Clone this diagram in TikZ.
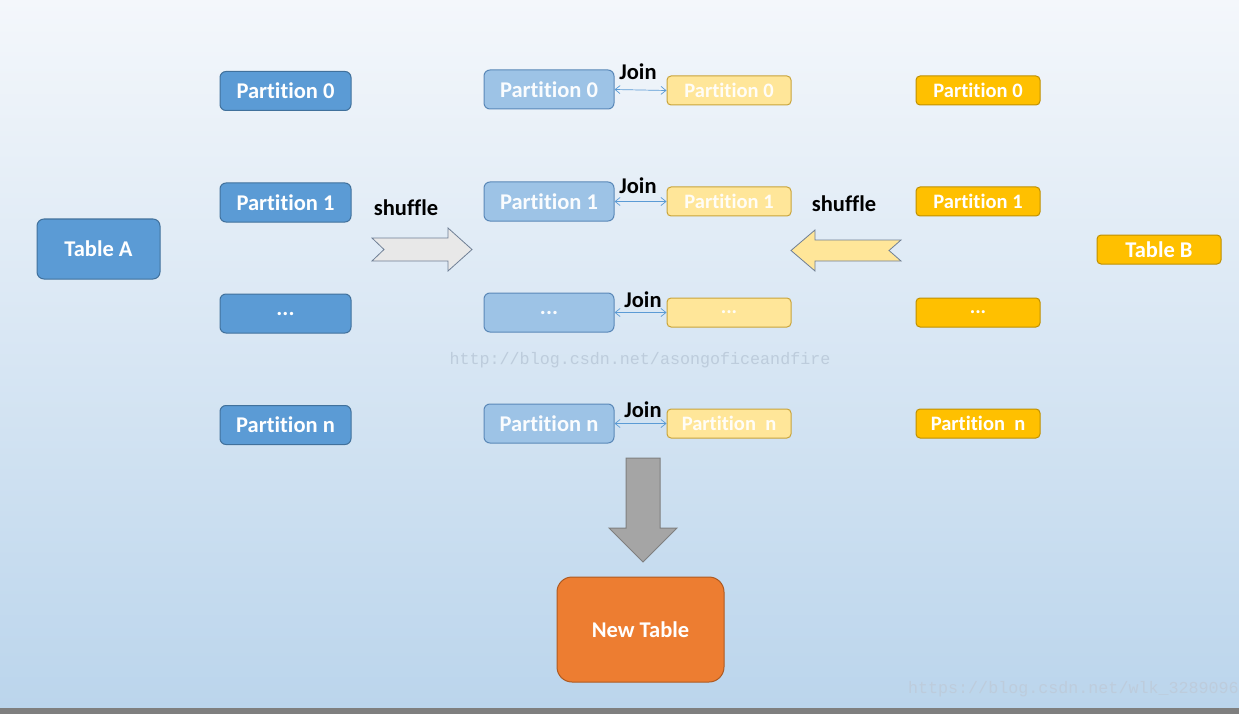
\documentclass[tikz,border=0pt]{standalone}
\usepackage{fontspec}
\setmainfont{Carlito}[Ligatures=NoCommon]
\newfontfamily\wmfont{Liberation Mono}
\definecolor{bgtop}{HTML}{F4F7FB}
\definecolor{bgbot}{HTML}{BBD5EC}
\definecolor{blueA}{HTML}{5B9BD5}
\definecolor{blueAd}{HTML}{41719C}
\definecolor{blueL}{HTML}{9DC3E6}
\definecolor{blueLd}{HTML}{5A88B8}
\definecolor{yelL}{HTML}{FFE699}
\definecolor{yelLd}{HTML}{C9A43A}
\definecolor{yelB}{HTML}{FFC000}
\definecolor{yelBd}{HTML}{BF9000}
\definecolor{grayA}{HTML}{A5A5A5}
\definecolor{grayAd}{HTML}{7F7F7F}
\definecolor{arrL}{HTML}{E8E8E8}
\definecolor{arrLd}{HTML}{6F7F95}
\definecolor{orangeN}{HTML}{ED7D31}
\definecolor{orangeNd}{HTML}{AE5A21}
\definecolor{wm}{HTML}{BDCCDC}
\tikzset{
  box/.style={rounded corners=6pt, line width=1pt, text=white, font=\bfseries\fontsize{22.5}{24}\selectfont, inner sep=0pt},
  pA/.style={box, fill=blueA, draw=blueAd, minimum width=131pt, minimum height=39pt},
  pL/.style={box, fill=blueL, draw=blueLd, minimum width=130pt, minimum height=39pt, text=white!95!blueL},
  yL/.style={box, fill=yelL, draw=yelLd, minimum width=124pt, minimum height=29pt, rounded corners=4pt, font=\bfseries\fontsize{20.5}{22}\selectfont, text=white!92!yelL},
  yB/.style={box, fill=yelB, draw=yelBd, minimum width=124pt, minimum height=29pt, rounded corners=4pt, font=\bfseries\fontsize{20.5}{22}\selectfont},
  joinlbl/.style={font=\bfseries\fontsize{22.5}{24}\selectfont, text=black, inner sep=0pt},
  joinarr/.style={<->, >={Straight Barb[length=5pt,width=8pt]}, draw=blueA, line width=0.7pt},
  wmtext/.style={font=\wmfont\fontsize{16.7}{19}\selectfont, text=wm, inner sep=0pt}
}
\usetikzlibrary{arrows.meta}
\begin{document}
\begin{tikzpicture}[x=1pt,y=-1pt]
\useasboundingbox (0,0) rectangle (1239,714);
\shade[top color=bgtop, bottom color=bgbot] (0,0) rectangle (1239,708);
\fill[grayAd] (0,708) rectangle (1239,714);

% watermarks
\node[wmtext] (wm1) at (640,360) {http://blog.csdn.net/asongoficeandfire};
\node[wmtext, anchor=east] (wm2) at (1239,689) {https://blog.csdn.net/wlk\_3289096};

% Table A
\node[pA, minimum width=123pt, minimum height=60pt, rounded corners=7pt] (ta) at (98.5,249) {Table A};
% column 1
\node[pA] (a0) at (285.5,91) {Partition 0};
\node[pA] (a1) at (285.5,202.5) {Partition 1};
\node[pA] (a2) at (285.5,313.5) {...};
\node[pA] (an) at (285.5,425) {Partition n};
% column 2
\node[pL] (b0) at (549,89.5) {Partition 0};
\node[pL] (b1) at (549,201.5) {Partition 1};
\node[pL] (b2) at (549,312.5) {...};
\node[pL] (bn) at (549,423.5) {Partition n};
% column 3
\node[yL] (c0) at (729,90.5) {Partition 0};
\node[yL] (c1) at (729,201.5) {Partition 1};
\node[yL] (c2) at (729,312.5) {...};
\node[yL] (cn) at (729,423.5) {Partition\ \ n};
% column 4
\node[yB] (d0) at (978,90.5) {Partition 0};
\node[yB] (d1) at (978,201.5) {Partition 1};
\node[yB] (d2) at (978,312.5) {...};
\node[yB] (dn) at (978,423.5) {Partition\ \ n};
% Table B
\node[yB, font=\bfseries\fontsize{22.5}{24}\selectfont] (tb) at (1159,249.5) {Table B};

% joins
\draw[joinarr] (b0.east) -- (c0.west);
\draw[joinarr] (b1.east) -- (c1.west);
\draw[joinarr] (b2.east) -- (c2.west);
\draw[joinarr] (bn.east) -- (cn.west);
\node[joinlbl] (j0) at (638,72) {Join};
\node[joinlbl] (j1) at (638,186) {Join};
\node[joinlbl] (j2) at (643,300) {Join};
\node[joinlbl] (jn) at (643,410) {Join};

% shuffle labels
\node[joinlbl] (s1) at (406,208) {shuffle};
\node[joinlbl] (s2) at (844,204) {shuffle};

% shuffle arrows
\draw[fill=arrL, draw=arrLd, line width=0.8pt, line join=miter]
  (372,238) -- (448,238) -- (448,228) -- (472,249.5) -- (448,271) -- (448,261) -- (372,261) -- (384,249.5) -- cycle;
\draw[fill=yelL, draw=arrLd, line width=0.8pt, line join=miter]
  (901,240) -- (815,240) -- (815,230) -- (791,250.5) -- (815,271) -- (815,261) -- (901,261) -- (889,250.5) -- cycle;

% down arrow
\draw[fill=grayA, draw=grayAd, line width=1pt, line join=miter]
  (626,458) -- (660,458) -- (660,528) -- (677,528) -- (643,562) -- (609,528) -- (626,528) -- cycle;

% New Table
\node[box, fill=orangeN, draw=orangeNd, minimum width=167pt, minimum height=105pt, rounded corners=15pt] (nt) at (640.5,629.5) {New Table};
\end{tikzpicture}
\end{document}
